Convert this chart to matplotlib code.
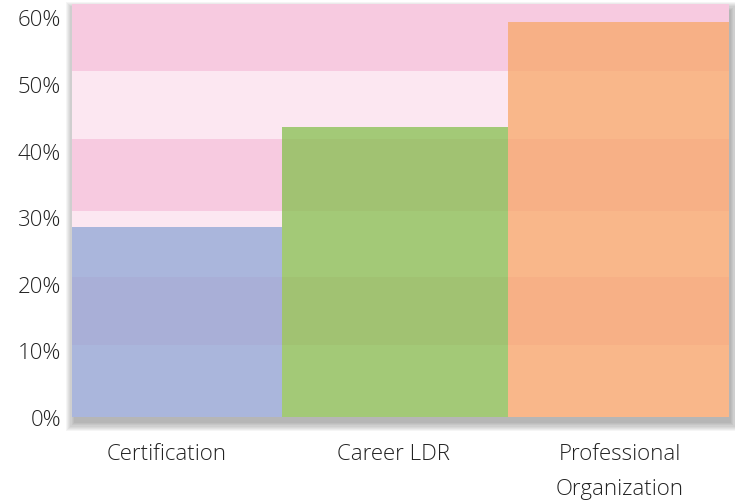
import matplotlib.pyplot as plt
from matplotlib.patches import Rectangle

plt.rcParams['font.family'] = ['Open Sans', 'DejaVu Sans']

# data
categories = ["Certification", "Career LDR", "Professional\nOrganization"]
values = [28.5, 43.5, 59.3]
bar_colors = ["#8FA6D5", "#85C04E", "#F8A868"]

# background bands (percent)
band_edges = [0, 10.8, 21.0, 30.9, 41.8, 51.9, 62.0]
band_colors = ["#FCE7F1", "#F7CAE0"]

yticks = [0, 10, 20, 30, 40, 50, 60]
ytick_labels = ["0%", "10%", "20%", "30%", "40%", "50%", "60%"]

# layout: bar widths (unequal in the original) and label centres
bar_widths = [0.96, 1.03, 1.01]
label_pos = [0.43, 1.47, 2.50]

W, H = 735, 502
fig = plt.figure(figsize=(W / 100, H / 100), dpi=100)
left, right, top, bottom = 72, 729, 5, 418
ax = fig.add_axes([left / W, 1 - bottom / H, (right - left) / W, (bottom - top) / H])
ax.set_zorder(1)
ax.patch.set_facecolor("none")

# soft drop shadow behind the plot area
for i in range(8):
    g = i * 1.2
    fig.patches.append(Rectangle(((left - 1 + 3 - g) / W, 1 - (bottom + 6 + g) / H),
                                 (right - left + 2 * g) / W, (bottom - top + 2 * g) / H,
                                 transform=fig.transFigure, facecolor="#000000",
                                 alpha=0.04, edgecolor="none", zorder=-10))
fig.patches.append(Rectangle((left / W, 1 - bottom / H), (right - left) / W,
                             (bottom - top) / H, transform=fig.transFigure,
                             facecolor="white", edgecolor="none", zorder=-5))

for i in range(len(band_edges) - 1):
    ax.axhspan(band_edges[i], band_edges[i + 1], color=band_colors[i % 2], lw=0, zorder=0)

lefts = [sum(bar_widths[:i]) for i in range(len(bar_widths))]
ax.bar(lefts, values, width=bar_widths, align="edge", color=bar_colors,
       alpha=0.75, lw=0, zorder=2)

ax.set_xlim(0, sum(bar_widths))
ax.set_ylim(band_edges[0], band_edges[-1])
ax.set_yticks(yticks)
ax.set_yticklabels(ytick_labels)
ax.set_xticks(label_pos)
ax.set_xticklabels(categories, linespacing=1.85)
ax.tick_params(axis="both", length=0, labelsize=16, labelcolor="#222222")
ax.tick_params(axis="y", pad=8)
ax.tick_params(axis="x", pad=19)
for lab in ax.get_xticklabels() + ax.get_yticklabels():
    lab.set_fontweight("light")
for s in ax.spines.values():
    s.set_visible(False)

fig.savefig("out.png", dpi=100)
